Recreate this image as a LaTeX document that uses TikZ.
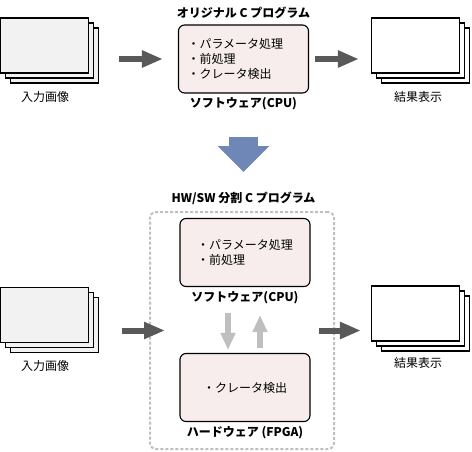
\documentclass[tikz,border=0pt]{standalone}
\usepackage{fontspec}
\setmainfont{Noto Sans CJK JP}
\usetikzlibrary{positioning,arrows.meta}
\definecolor{boxpink}{HTML}{F8EDED}
\definecolor{sheetgray}{HTML}{F2F2F2}
\definecolor{flowgray}{HTML}{595959}
\definecolor{linkgray}{HTML}{BFBFBF}
\definecolor{stepblue}{HTML}{6F87B7}

\begin{document}
\begin{tikzpicture}[x=1pt,y=-1pt,
  font=\fontsize{12}{15}\selectfont,
  sheet/.style={draw,line width=1.2pt,minimum width=88pt,minimum height=55pt,inner sep=0pt},
  procbox/.style={draw,line width=1.1pt,rounded corners=6pt,fill=boxpink,
    minimum width=130pt,minimum height=68pt,align=left},
  caption/.style={font=\fontsize{12}{15}\selectfont\bfseries},
  flow/.style={flowgray,line width=6pt,-{Triangle[length=21pt,width=16pt]}},
  link/.style={linkgray,line width=6pt,-{Triangle[length=17pt,width=14pt]}},
  stepdown/.style={stepblue,line width=29pt,-{Triangle[length=26pt,width=50pt]}}
]
\useasboundingbox (0,0) rectangle (472,451);

\foreach \d in {10,5,0} {
  \node[sheet,fill=sheetgray] (in1-\d) at (44.5+\d,45.5+\d) {};
  \node[sheet,fill=white] (out1-\d) at (415.5+\d,45.5+\d) {};
  \node[sheet,fill=sheetgray] (in2-\d) at (44.5+\d,315+\d) {};
  \node[sheet,fill=white] (out2-\d) at (415.5+\d,313.5+\d) {};
}
\node (in1lbl) at (45,97) {入力画像};
\node (out1lbl) at (418,97) {結果表示};
\node (in2lbl) at (45,366) {入力画像};
\node (out2lbl) at (418,363) {結果表示};

\node[caption] (title1) at (243.5,13) {オリジナル C プログラム};
\node[procbox,text width=112pt,minimum width=0pt,inner xsep=9pt] (sw1) at (243.5,59)
  {・パラメータ処理\\・前処理\\・クレータ検出};
\node[caption] (sw1cap) at (243.5,104) {ソフトウェア(CPU)};

\draw[flow,shorten <=19.5pt,shorten >=15pt] (in1-10.east |- sw1.west) -- (sw1.west);
\draw[flow,shorten <=6pt,shorten >=12pt] (sw1.east) -- (sw1.east -| out1-0.west);

\draw[stepdown,shorten <=23pt,shorten >=26pt] (sw1cap) -- (sw1cap |- 0,198);

\node[caption] (title2) at (243.5,198) {HW/SW 分割 C プログラム};
\node[draw=linkgray,line width=2pt,dash pattern=on 3pt off 2pt,rounded corners=6pt,
  minimum width=184pt,minimum height=237pt] (hwsw) at (242,330.5) {};
\node[procbox] (sw2) at (245,252.5) {・パラメータ処理\\・前処理};
\node[caption] (sw2cap) at (245,298) {ソフトウェア(CPU)};
\node[procbox] (hw) at (245,387.5) {・クレータ検出};
\node[caption] (hwcap) at (245,433) {ハードウェア (FPGA)};

\draw[link,shorten <=26pt,shorten >=3pt] ([xshift=-17pt]sw2.south) -- ([xshift=-17pt]hw.north);
\draw[link,shorten <=5pt,shorten >=28pt] ([xshift=15pt]hw.north) -- ([xshift=15pt]sw2.south);

\draw[flow,shorten <=22.5pt,shorten >=-16pt] (in2-10.east |- hwsw.west) -- (hwsw.west);
\draw[flow,shorten <=-16pt,shorten >=10pt] (hwsw.east) -- (hwsw.east -| out2-0.west);
\end{tikzpicture}
\end{document}
